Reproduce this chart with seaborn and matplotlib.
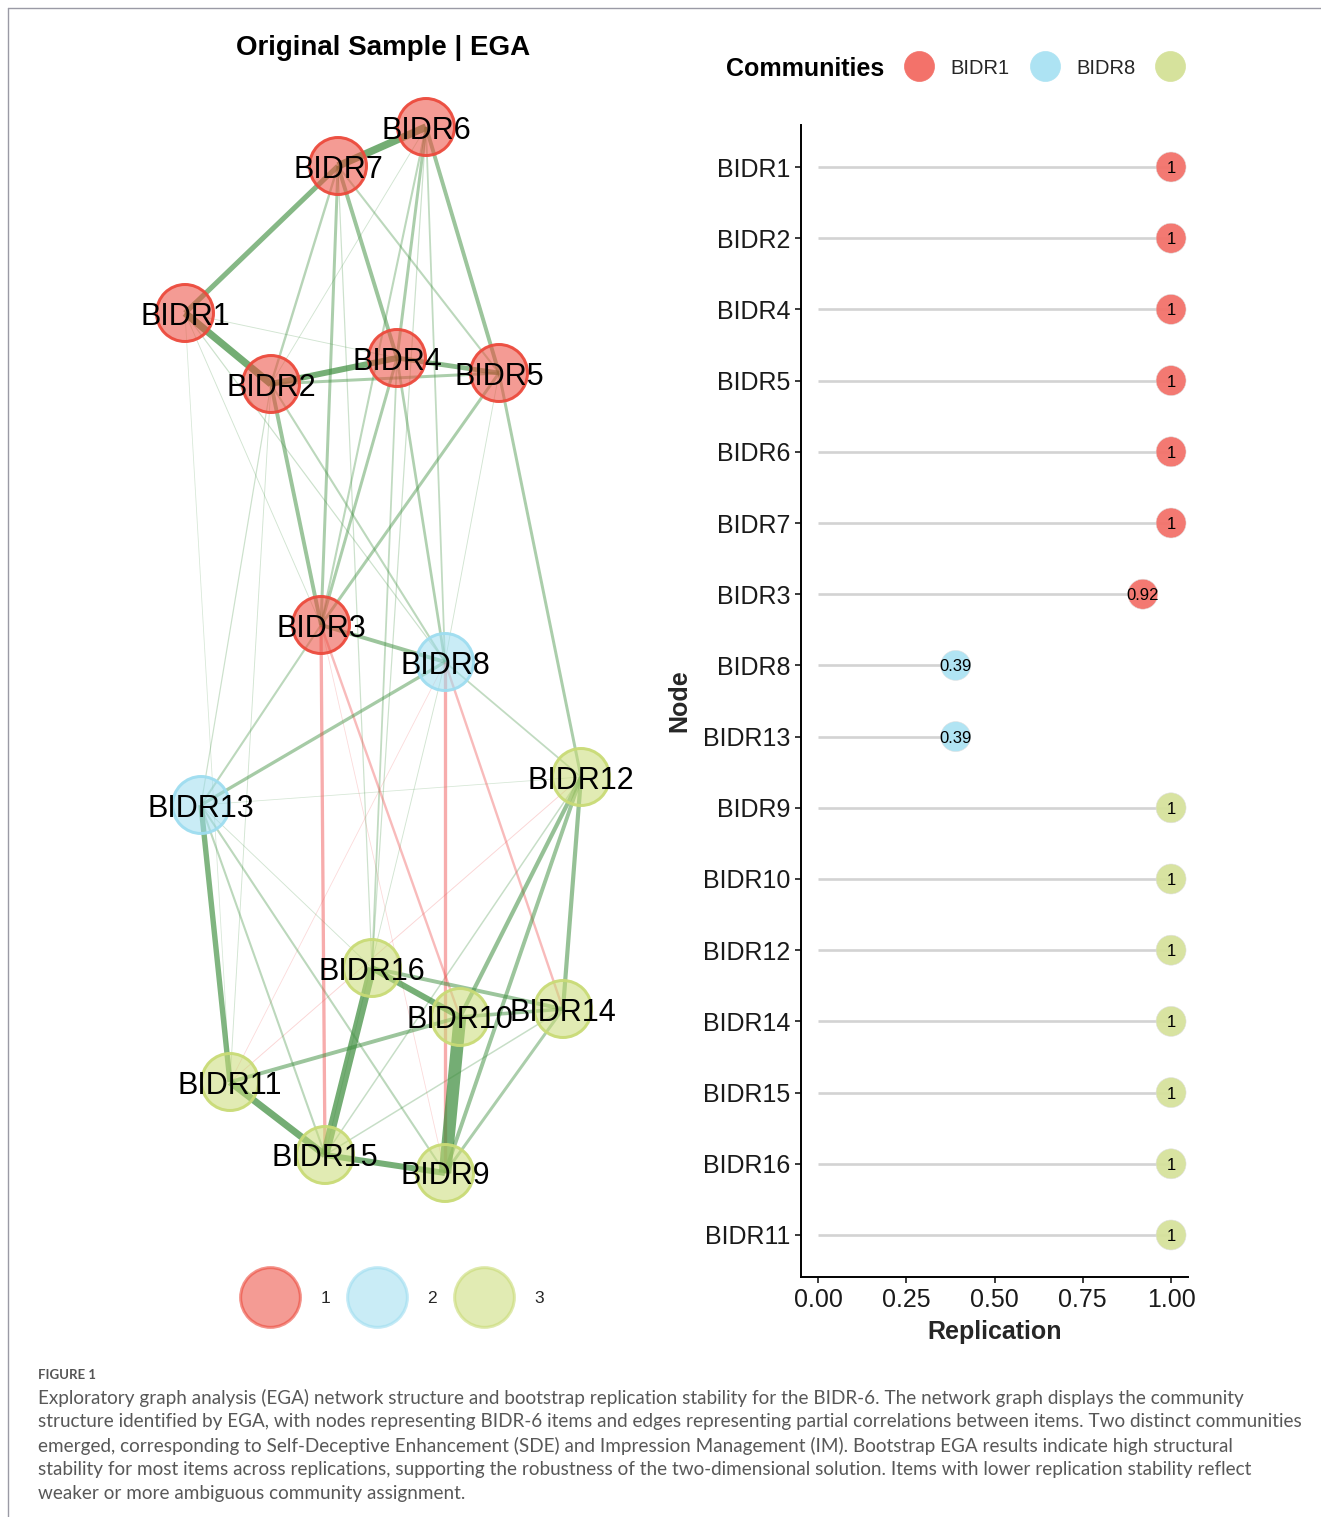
import numpy as np
import pandas as pd
import matplotlib
matplotlib.use("Agg")
import matplotlib.pyplot as plt
from matplotlib.lines import Line2D
from matplotlib.colors import to_rgba
import seaborn as sns

sns.set_theme(style="white")
plt.rcParams["font.family"] = ["Liberation Sans", "DejaVu Sans"]

# ------------------------------------------------------------------
# Network (EGA) data
# ------------------------------------------------------------------
items = ["BIDR1", "BIDR2", "BIDR3", "BIDR4", "BIDR5", "BIDR6", "BIDR7", "BIDR8",
         "BIDR9", "BIDR10", "BIDR11", "BIDR12", "BIDR13", "BIDR14", "BIDR15", "BIDR16"]
item_community = [1, 1, 1, 1, 1, 1, 1, 2, 3, 3, 3, 3, 2, 3, 3, 3]
layout_x = [185, 271, 321, 397, 499, 426, 338, 445, 445, 460, 230, 581, 201, 563, 325, 372]
layout_y = [313, 384, 625, 358, 373, 127, 166, 662, 1173, 1017, 1082, 777, 805, 1009, 1155, 968]

edge_from = ["BIDR6", "BIDR7", "BIDR1", "BIDR2", "BIDR4", "BIDR2", "BIDR6", "BIDR7", "BIDR7", "BIDR7",
             "BIDR7", "BIDR6", "BIDR6", "BIDR6", "BIDR6", "BIDR2", "BIDR4", "BIDR5", "BIDR4", "BIDR3",
             "BIDR2", "BIDR5", "BIDR8", "BIDR3", "BIDR13", "BIDR13", "BIDR13", "BIDR12", "BIDR12", "BIDR12",
             "BIDR12", "BIDR16", "BIDR16", "BIDR16", "BIDR10", "BIDR10", "BIDR10", "BIDR11", "BIDR15", "BIDR14",
             "BIDR14", "BIDR8", "BIDR1", "BIDR1", "BIDR1", "BIDR1", "BIDR2", "BIDR4", "BIDR6", "BIDR13",
             "BIDR5", "BIDR7", "BIDR13", "BIDR8", "BIDR2",
             "BIDR3", "BIDR3", "BIDR8", "BIDR8", "BIDR12", "BIDR8", "BIDR3"]
edge_to = ["BIDR7", "BIDR1", "BIDR2", "BIDR4", "BIDR5", "BIDR5", "BIDR5", "BIDR4", "BIDR3", "BIDR2",
           "BIDR5", "BIDR4", "BIDR3", "BIDR8", "BIDR2", "BIDR3", "BIDR3", "BIDR3", "BIDR8", "BIDR8",
           "BIDR8", "BIDR12", "BIDR13", "BIDR13", "BIDR11", "BIDR15", "BIDR9", "BIDR14", "BIDR10", "BIDR9",
           "BIDR15", "BIDR10", "BIDR14", "BIDR15", "BIDR9", "BIDR11", "BIDR14", "BIDR15", "BIDR9", "BIDR9",
           "BIDR15", "BIDR12", "BIDR3", "BIDR4", "BIDR8", "BIDR11", "BIDR13", "BIDR16", "BIDR16", "BIDR12",
           "BIDR8", "BIDR16", "BIDR16", "BIDR15", "BIDR11",
           "BIDR15", "BIDR10", "BIDR9", "BIDR14", "BIDR11", "BIDR11", "BIDR9"]
edge_weight = [0.25, 0.17, 0.24, 0.20, 0.16, 0.10, 0.13, 0.13, 0.10, 0.08,
               0.07, 0.10, 0.07, 0.06, 0.03, 0.13, 0.10, 0.10, 0.09, 0.13,
               0.07, 0.10, 0.11, 0.07, 0.18, 0.07, 0.07, 0.14, 0.14, 0.13,
               0.05, 0.20, 0.13, 0.29, 0.42, 0.13, 0.12, 0.23, 0.20, 0.10,
               0.05, 0.06, 0.03, 0.03, 0.04, 0.02, 0.04, 0.06, 0.04, 0.02,
               0.03, 0.04, 0.03, 0.03, 0.03,
               -0.11, -0.08, -0.11, -0.08, -0.03, -0.02, -0.02]

community_ring = {1: "#EC4A3C", 2: "#9EDDF0", 3: "#C9DB76"}

# ------------------------------------------------------------------
# Bootstrap replication data
# ------------------------------------------------------------------
rep_nodes = ["BIDR1", "BIDR2", "BIDR4", "BIDR5", "BIDR6", "BIDR7", "BIDR3", "BIDR8",
             "BIDR13", "BIDR9", "BIDR10", "BIDR12", "BIDR14", "BIDR15", "BIDR16", "BIDR11"]
rep_values = [1, 1, 1, 1, 1, 1, 0.92, 0.39, 0.39, 1, 1, 1, 1, 1, 1, 1]
rep_community = ["BIDR1"] * 7 + ["BIDR8"] * 2 + ["BIDR9"] * 7
community_names = ["BIDR1", "BIDR8", ""]
rep_palette = {"BIDR1": "#F3726A", "BIDR8": "#ADE3F3", "BIDR9": "#D6E29C"}

caption_head = "FIGURE 1"
caption_lines = [
    "Exploratory graph analysis (EGA) network structure and bootstrap replication stability for the BIDR-6. The network graph displays the community",
    "structure identified by EGA, with nodes representing BIDR-6 items and edges representing partial correlations between items. Two distinct communities",
    "emerged, corresponding to Self-Deceptive Enhancement (SDE) and Impression Management (IM). Bootstrap EGA results indicate high structural",
    "stability for most items across replications, supporting the robustness of the two-dimensional solution. Items with lower replication stability reflect",
    "weaker or more ambiguous community assignment.",
]

W, H = 1321, 1517
fig = plt.figure(figsize=(W / 100, H / 100), dpi=100)
fig.patch.set_facecolor("white")

# ------------------------------------------------------------------
# Left panel: network graph
# ------------------------------------------------------------------
ax_net = fig.add_axes([0, 0, 0.5, 1])
ax_net.set_xlim(0, W * 0.5)
ax_net.set_ylim(H, 0)
ax_net.axis("off")

pos = {n: (x, y) for n, x, y in zip(items, layout_x, layout_y)}
edges = sorted(zip(edge_from, edge_to, edge_weight), key=lambda e: abs(e[2]))
for a, b, w in edges:
    base = "#3E8E3E" if w > 0 else "#EE4A4A"
    alpha = min(0.72, 0.15 + 2.8 * abs(w))
    width_px = max(0.8, 30 * abs(w))
    ax_net.plot([pos[a][0], pos[b][0]], [pos[a][1], pos[b][1]],
                color=to_rgba(base, alpha), lw=width_px * 0.72,
                solid_capstyle="butt", zorder=1)

ring = [to_rgba(community_ring[c], 0.95) for c in item_community]
face = [to_rgba(community_ring[c], 0.55) for c in item_community]
ax_net.scatter(layout_x, layout_y, s=(57 * 0.72) ** 2, c=face, edgecolors=ring,
               linewidths=3.0 * 0.72, zorder=3)
for n, x, y in zip(items, layout_x, layout_y):
    ax_net.text(x, y, n, ha="center", va="center_baseline", fontsize=22,
                color="black", zorder=4)

fig.text(383 / W, 1 - 48 / H, "Original Sample | EGA", ha="center", va="center",
         fontsize=20, fontweight="bold", color="black")

net_handles = [Line2D([], [], ls="none", marker="o", markersize=43,
                      markerfacecolor=to_rgba(community_ring[c], 0.55),
                      markeredgecolor=to_rgba(community_ring[c], 0.6),
                      markeredgewidth=2.2) for c in (1, 2, 3)]
fig.legend(net_handles, ["1", "2", "3"], ncol=3, frameon=False, fontsize=12.5,
           loc="center", bbox_to_anchor=(392 / W, 1 - 1298 / H),
           handlelength=3.45, handletextpad=1.15, columnspacing=1.0, borderpad=0)

# ------------------------------------------------------------------
# Right panel: replication lollipop
# ------------------------------------------------------------------
df = pd.DataFrame({"Node": rep_nodes, "Replication": rep_values,
                   "Community": rep_community})
df["row"] = np.arange(len(df))

ax_r = fig.add_axes([801 / W, 1 - 1277 / H, 387 / W, 1152 / H])
ax_r.hlines(df["row"], 0, df["Replication"], color="#D3D3D3", lw=1.9, zorder=1)
sns.scatterplot(data=df, x="Replication", y="row", hue="Community",
                palette=rep_palette, s=(30 * 0.72) ** 2, edgecolor="#E0E0E0",
                linewidth=0.4, alpha=0.95, legend=False, ax=ax_r, zorder=2)
for _, r in df.iterrows():
    lab = "1" if r["Replication"] == 1 else f"{r['Replication']:.2f}"
    ax_r.text(r["Replication"], r["row"], lab, ha="center", va="center_baseline",
              fontsize=12, color="black", zorder=3)

ax_r.set_xlim(-0.048, 1.048)
ax_r.set_ylim(len(df) - 0.41, -0.59)
ax_r.set_yticks(df["row"])
ax_r.set_yticklabels(df["Node"])
ax_r.set_xticks([0, 0.25, 0.5, 0.75, 1.0])
ax_r.set_xticklabels(["0.00", "0.25", "0.50", "0.75", "1.00"])
ax_r.tick_params(axis="both", labelsize=18, colors="#1a1a1a", length=4.3,
                 width=1.2, direction="out", left=True, bottom=True, pad=3.5)
ax_r.set_xlabel("Replication", fontsize=18, fontweight="bold", labelpad=6)
ax_r.set_ylabel("Node", fontsize=18, fontweight="bold", labelpad=8)
ax_r.grid(False)
ax_r.set_facecolor("white")
for side in ("top", "right"):
    ax_r.spines[side].set_visible(False)
for side in ("left", "bottom"):
    ax_r.spines[side].set_color("black")
    ax_r.spines[side].set_linewidth(1.4)

fig.text(726 / W, 1 - 69 / H, "Communities", ha="left", va="center",
         fontsize=18, fontweight="bold", color="black")
comm_handles = [Line2D([], [], ls="none", marker="o", markersize=21.6,
                       markerfacecolor=rep_palette[k],
                       markeredgecolor=to_rgba(rep_palette[k], 1.0), markeredgewidth=0.5)
                for k in ("BIDR1", "BIDR8", "BIDR9")]
fig.legend(comm_handles, community_names, ncol=3, frameon=False, fontsize=14.5,
           loc="center left", bbox_to_anchor=(894 / W, 1 - 68 / H),
           handlelength=1.5, handletextpad=0.8, columnspacing=1.0, borderpad=0)

# ------------------------------------------------------------------
# Caption and frame
# ------------------------------------------------------------------
cap_family = ["Lato", "DejaVu Sans"]
fig.text(38 / W, 1 - 1375 / H, caption_head, ha="left", va="center", fontsize=9.5,
         fontweight="bold", color="#555555", family=cap_family)
renderer = fig.canvas.get_renderer()
probe = fig.text(0, 0, caption_lines[1], fontsize=12, family=cap_family)
wpx = probe.get_window_extent(renderer).width
probe.remove()
cap_size = 12 * 1258 / wpx
for i, line in enumerate(caption_lines):
    fig.text(38 / W, 1 - (1398 + 24 * i) / H, line, ha="left", va="center",
             fontsize=cap_size, color="#585858", family=cap_family)

fig.add_artist(Line2D([8 / W, 1], [1 - 8 / H, 1 - 8 / H], color="#9a9aa5", lw=1.0))
fig.add_artist(Line2D([8 / W, 8 / W], [1 - 8 / H, 0], color="#9a9aa5", lw=1.0))

fig.savefig("out.png", dpi=100, facecolor="white")
